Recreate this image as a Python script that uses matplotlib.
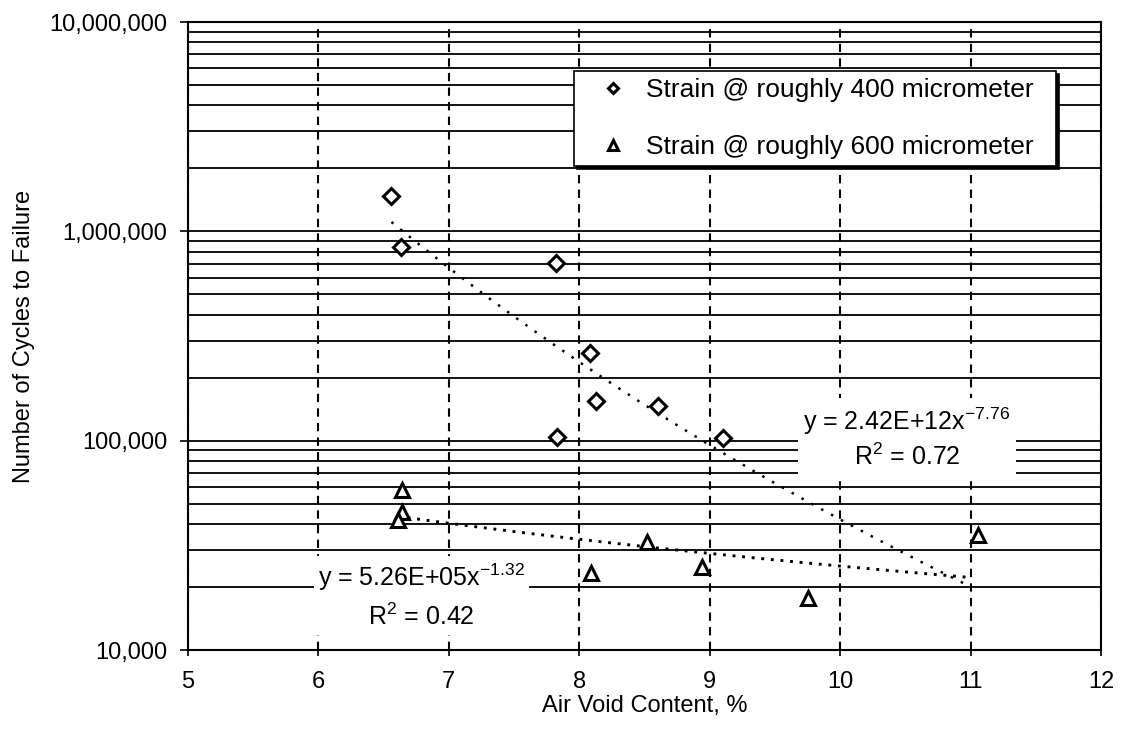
import numpy as np
import matplotlib
matplotlib.use("Agg")
import matplotlib.pyplot as plt
from matplotlib.ticker import LogLocator, FuncFormatter, MultipleLocator, NullFormatter

plt.rcParams['font.family'] = ['Liberation Sans', 'DejaVu Sans']
plt.rcParams['mathtext.fontset'] = 'custom'
plt.rcParams['mathtext.rm'] = 'Liberation Sans'

# data
x400 = [6.56, 6.63, 7.82, 8.08, 8.13, 8.60, 7.83, 9.10]
y400 = [1479000, 844000, 703000, 263000, 155000, 146000, 103700, 102600]
x600 = [6.64, 6.64, 6.61, 8.52, 8.09, 8.94, 9.75, 11.06]
y600 = [58100, 45800, 41800, 32900, 23200, 25000, 17700, 35400]

labels = ['Strain @ roughly 400 micrometer', 'Strain @ roughly 600 micrometer']

# power trendlines y = a * x^b (from the chart labels)
a400, b400, r400 = 2.42e12, -7.76, 0.72
a600, b600, r600 = 5.26e5, -1.32, 0.42
trend_end = 11.0

fig = plt.figure(figsize=(11.23, 7.36), dpi=100)
ax = fig.add_axes([188/1123, 1-650/736, (1101-188)/1123, (650-22)/736])

ax.set_yscale('log')
ax.set_xlim(5, 12)
ax.set_ylim(1e4, 1e7)

# gridlines: solid at every y major/minor, dashed at every x integer
ax.yaxis.set_major_locator(LogLocator(base=10))
ax.yaxis.set_minor_locator(LogLocator(base=10, subs=np.arange(2, 10)))
ax.yaxis.set_minor_formatter(NullFormatter())
ax.yaxis.set_major_formatter(FuncFormatter(lambda v, p: '{:,.0f}'.format(v)))
ax.xaxis.set_major_locator(MultipleLocator(1))
ax.grid(True, axis='y', which='both', color='black', lw=1.3, ls='-')
ax.grid(True, axis='x', which='major', color='black', lw=1.5, ls=(0, (4, 3)))
ax.set_axisbelow(True)

for s in ax.spines.values():
    s.set_color('black')
    s.set_linewidth(1.5)

ax.tick_params(axis='y', which='major', length=6, width=1.2, pad=9, labelsize=17)
ax.tick_params(axis='y', which='minor', length=0)
ax.tick_params(axis='x', which='major', direction='inout', length=8, width=1.2, pad=11, labelsize=17)

# trendlines
xt1 = np.linspace(min(x400), trend_end, 200)
ax.plot(xt1, a400 * xt1 ** b400, color='black', lw=1.8, ls=(0, (1, 3.5)), zorder=3)
xt2 = np.linspace(min(x600), trend_end, 200)
ax.plot(xt2, a600 * xt2 ** b600, color='black', lw=2.1, ls=(0, (1, 2.3)), zorder=3)

ax.plot(x400, y400, 'D', ms=8, mfc='white', mec='black', mew=2.2, ls='none', label=labels[0], zorder=4)
ax.plot(x600, y600, '^', ms=10.5, mfc='white', mec='black', mew=2.2, ls='none', label=labels[1], zorder=4)

leg = ax.legend(loc='upper left',
                bbox_to_anchor=((574-188)/913, (650-71)/628, (1056-574)/913, 0.0),
                mode='expand', fontsize=19, frameon=True, fancybox=False, edgecolor='black',
                shadow={'color': 'black', 'alpha': 1}, borderaxespad=0, borderpad=0.27,
                labelspacing=1.25, handlelength=2.4, handletextpad=0.05, markerscale=0.7)
leg.get_frame().set_linewidth(1.2)
leg.set_zorder(6)

ax.text(10.51, 102900,
        'y = 2.42E+12x$^{\\mathregular{-7.76}}$\nR$^{\\mathregular{2}}$ = 0.72',
        ha='center', va='center', fontsize=18, linespacing=1.3, zorder=5,
        bbox=dict(facecolor='white', edgecolor='none', pad=4))
ax.text(6.79, 18100,
        'y = 5.26E+05x$^{\\mathregular{-1.32}}$\nR$^{\\mathregular{2}}$ = 0.42',
        ha='center', va='center', fontsize=18, linespacing=1.5, zorder=5,
        bbox=dict(facecolor='white', edgecolor='none', pad=3))

ax.set_xlabel('Air Void Content, %', fontsize=17)
ax.xaxis.set_label_coords(0.5, -0.072)
ax.set_ylabel('Number of Cycles to Failure', fontsize=17)
ax.yaxis.set_label_coords(-0.168, 0.5)

fig.savefig('out.png', dpi=100, facecolor='white')
